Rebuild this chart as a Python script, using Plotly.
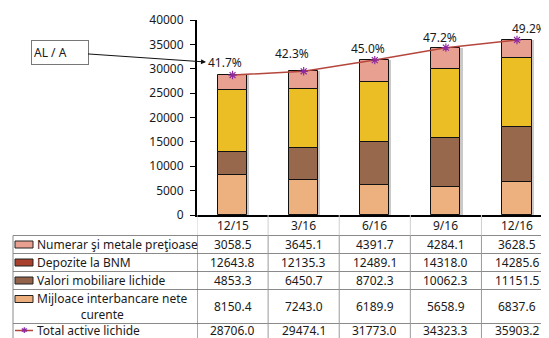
import numpy as np
import plotly.graph_objects as go

# ---------------- data ----------------
categories = ["12/15", "3/16", "6/16", "9/16", "12/16"]
numerar = [3058.5, 3645.1, 4391.7, 4284.1, 3628.5]
depozite = [12643.8, 12135.3, 12489.1, 14318.0, 14285.6]
valori = [4853.3, 6450.7, 8702.3, 10062.3, 11151.5]
mijloace = [8150.4, 7243.0, 6189.9, 5658.9, 6837.6]
total = [28706.0, 29474.1, 31773.0, 34323.3, 35903.2]
ratio_al_a = [41.7, 42.3, 45.0, 47.2, 49.2]
y_tick_values = [0, 5000, 10000, 15000, 20000, 25000, 30000, 35000, 40000]
y_tick_labels = [str(v) for v in y_tick_values]

name_numerar = "Numerar şi metale preţioase"
name_depozite = "Depozite la BNM"
name_valori = "Valori mobiliare lichide"
name_mijloace_1 = "Mijloace interbancare nete"
name_mijloace_2 = "curente"
name_total = "Total active lichide"
ratio_title = "AL / A"

# ---------------- styles ----------------
FONT = "Noto Sans"
TXT = "#1a1a1a"
W, H = 549, 338          # reference window
OFF = 8                  # browser default body margin
PLOT_L, PLOT_T, PLOT_B = 197, 20, 215
PLOT_R = W
bar_w = 0.41
col_peach, col_brown, col_yellow, col_salmon = "#EDB07F", "#98684D", "#EBBE26", "#E8A090"
key_colors = ["#E9A090", "#A8402D", "#93624A", "#EDAE7E"]
line_col, marker_col = "#B4463C", "#8E2A9E"


def py(p):  # reference pixel y -> paper y
    return (PLOT_B - p) / (PLOT_B - PLOT_T)


def px(p):  # reference pixel x -> paper x
    return (p - PLOT_L) / (PLOT_R - PLOT_L)


fig = go.Figure()

# stacking (bottom -> top)
stack = [(mijloace, col_peach), (valori, col_brown), (depozite, col_yellow), (numerar, col_salmon)]
tops = np.sum([np.array(s) for s, _ in stack], axis=0)

# shadow
fig.add_trace(go.Bar(x=categories, y=tops, width=bar_w, offset=-bar_w / 2 + 0.03,
                     marker=dict(color="#C9C9C9", line=dict(width=0)), hoverinfo="skip",
                     showlegend=False))
base = np.zeros(len(categories))
for vals, col in stack:
    fig.add_trace(go.Bar(x=categories, y=vals, base=base.copy(), width=bar_w, offset=-bar_w / 2,
                         marker=dict(color=col, line=dict(color="#111111", width=1)),
                         showlegend=False))
    base = base + np.array(vals)

fig.add_trace(go.Scatter(x=categories, y=total, mode="lines+markers",
                         line=dict(color=line_col, width=1.5),
                         marker=dict(symbol="asterisk-open", size=7, color=marker_col,
                                     line=dict(color=marker_col, width=1.2)),
                         showlegend=False))

ann = []
shapes = []


def text_ann(x, y, text, xref="paper", xanchor="center", size=12, align="center"):
    return dict(x=x, y=y, xref=xref, yref="paper", text=text, showarrow=False,
                xanchor=xanchor, yanchor="middle", align=align,
                font=dict(family=FONT, size=size, color=TXT))


# ratio labels
x_shifts = [-8, -12, -7, -6, 12]
y_shifts = [13, 18, 12, 10, 11]
for c, t, r, dx, dy in zip(categories, total, ratio_al_a, x_shifts, y_shifts):
    ann.append(dict(x=c, y=t, xref="x", yref="y", text=f"{r:.1f}%", showarrow=False,
                    xanchor="center", yanchor="middle",
                    xshift=dx, yshift=dy, font=dict(family=FONT, size=12, color=TXT)))

# AL / A box with arrow
ann.append(dict(x=px(206), y=py(62), xref="paper", yref="paper", text=ratio_title,
                showarrow=True, ax=59.5 - 206, ay=52 - 62, arrowhead=2, arrowsize=1,
                arrowwidth=1, arrowcolor="#111111", bordercolor="#777777", borderwidth=1,
                borderpad=2, width=52, height=19, align="left", bgcolor="white",
                font=dict(family=FONT, size=12, color=TXT)))

# ---------------- data table ----------------
row_lines = [235.5, 253.5, 271.5, 289.5, 323.5]
for c in categories:
    ann.append(text_ann(c, py(225), c, xref="x"))

rows = [(numerar, 244.5), (depozite, 262.5), (valori, 280.5), (mijloace, 306.5), (total, 330.5)]
for vals, yc in rows:
    for c, v in zip(categories, vals):
        ann.append(text_ann(c, py(yc), f"{v:.1f}", xref="x"))

label_rows = [(name_numerar, 244.5), (name_depozite, 262.5), (name_valori, 280.5),
              (name_mijloace_1 + "<br>" + "\u00a0" * 14 + name_mijloace_2, 306.5),
              (name_total, 330.5)]
for txt, yc in label_rows:
    ann.append(text_ann(px(35), py(yc), txt, xanchor="left", align="left"))

# legend keys
for col, yc in zip(key_colors, [244.5, 262.5, 280.5, 299.0]):
    shapes.append(dict(type="rect", xref="paper", yref="paper", x0=px(15), x1=px(33),
                       y0=py(yc - 3.5), y1=py(yc + 3.5), fillcolor=col,
                       line=dict(color="#222222", width=1), layer="above"))
shapes.append(dict(type="line", xref="paper", yref="paper", x0=px(15), x1=px(33),
                   y0=py(330.5), y1=py(330.5), line=dict(color=line_col, width=1.5)))
ann.append(dict(x=px(24), y=py(330.5), xref="paper", yref="paper", text="✱", showarrow=False,
                xanchor="center", yanchor="middle",
                font=dict(family="DejaVu Sans", size=8, color=marker_col)))

# horizontal table lines
for yl in row_lines:
    shapes.append(dict(type="line", xref="paper", yref="paper", x0=px(13), x1=1.01,
                       y0=py(yl), y1=py(yl), line=dict(color="#8a8a8a", width=1)))
# vertical table lines
shapes.append(dict(type="line", xref="paper", yref="paper", x0=px(13), x1=px(13),
                   y0=py(235.5), y1=py(345), line=dict(color="#8a8a8a", width=1)))
for xv in [-0.5, 0.5, 1.5, 2.5, 3.5]:
    shapes.append(dict(type="line", xref="x", yref="paper", x0=xv, x1=xv,
                       y0=0, y1=py(235.5), line=dict(color="#cfcfcf", width=1)))
    shapes.append(dict(type="line", xref="x", yref="paper", x0=xv, x1=xv,
                       y0=py(235.5), y1=py(345),
                       line=dict(color="#555555" if xv == -0.5 else "#9a9a9a", width=1)))

FW, FH = W - OFF, H - OFF
fig.update_layout(
    width=FW, height=FH, barmode="overlay", bargap=0,
    margin=dict(l=PLOT_L - OFF, r=FW - (PLOT_R - OFF), t=PLOT_T - OFF, b=FH - (PLOT_B - OFF),
                pad=0, autoexpand=False),
    plot_bgcolor="white", paper_bgcolor="white",
    font=dict(family=FONT, size=12, color=TXT),
    annotations=ann, shapes=shapes,
    xaxis=dict(range=[-0.5, 4.45], showticklabels=False, ticks="", showgrid=False,
               showline=True, linecolor="#000000", linewidth=2, zeroline=False,
               fixedrange=True),
    yaxis=dict(range=[0, 40000], tickvals=y_tick_values, ticktext=y_tick_labels,
               ticks="outside", ticklen=5, ticklabelstandoff=4,
               tickcolor="#000000", tickwidth=1, showgrid=False, showline=True,
               linecolor="#000000", linewidth=2, zeroline=False,
               tickfont=dict(family=FONT, size=12, color=TXT), fixedrange=True),
    showlegend=False,
)

fig.write_html("out.html",
               post_script="document.documentElement.style.overflow='hidden';"
                           "document.body.style.overflow='hidden';")
